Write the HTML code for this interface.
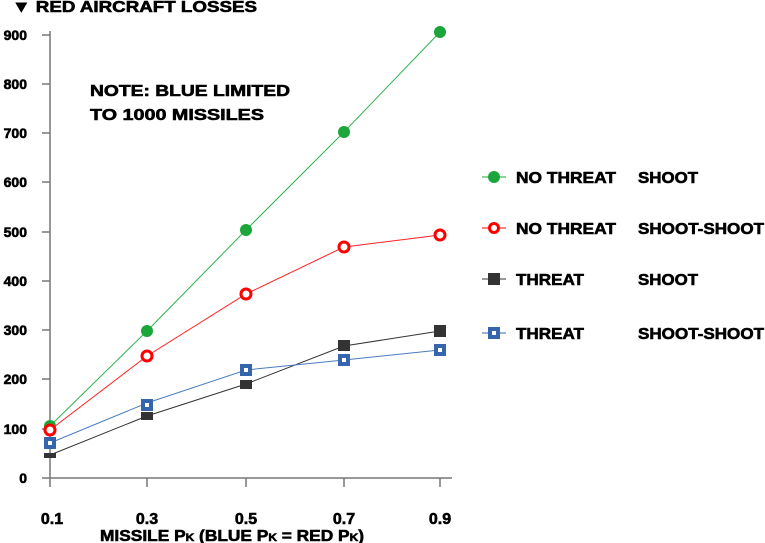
<!DOCTYPE html>
<html><head><meta charset="utf-8"><style>
body{margin:0;background:#fff}
svg{display:block;font-family:"Liberation Sans",Arial,sans-serif;font-weight:bold}
.t{stroke:#000;stroke-width:0.6}
</style></head><body>
<svg width="765" height="543" viewBox="0 0 765 543">
<text class="t" x="12" y="12" font-size="16" textLength="245" lengthAdjust="spacingAndGlyphs">▼ RED AIRCRAFT LOSSES</text>
<g stroke="#777" stroke-width="1.5" fill="none">
<line x1="50" y1="31" x2="50" y2="487"/>
<line x1="42" y1="478" x2="452" y2="478"/>
<line x1="42" y1="35" x2="50" y2="35"/>
<line x1="42" y1="84" x2="50" y2="84"/>
<line x1="42" y1="133" x2="50" y2="133"/>
<line x1="42" y1="182" x2="50" y2="182"/>
<line x1="42" y1="232" x2="50" y2="232"/>
<line x1="42" y1="281" x2="50" y2="281"/>
<line x1="42" y1="330" x2="50" y2="330"/>
<line x1="42" y1="379" x2="50" y2="379"/>
<line x1="42" y1="429" x2="50" y2="429"/>
<line x1="147" y1="478" x2="147" y2="487"/>
<line x1="246" y1="478" x2="246" y2="487"/>
<line x1="344" y1="478" x2="344" y2="487"/>
<line x1="440" y1="478" x2="440" y2="487"/>
</g>
<g font-size="14" text-anchor="end" class="t" stroke-width="0.4">
<text x="27" y="40">900</text><text x="27" y="89">800</text><text x="27" y="138">700</text>
<text x="27" y="187">600</text><text x="27" y="237">500</text><text x="27" y="286">400</text>
<text x="27" y="335">300</text><text x="27" y="384">200</text><text x="27" y="434">100</text>
<text x="27" y="483">0</text>
</g>
<g font-size="16" text-anchor="middle" class="t">
<text x="52" y="524">0.1</text><text x="147" y="524">0.3</text><text x="246" y="524">0.5</text>
<text x="344" y="524">0.7</text><text x="440" y="524">0.9</text>
</g>
<text class="t" x="100" y="541" font-size="16" textLength="264" lengthAdjust="spacingAndGlyphs">MISSILE P<tspan font-size="11">K</tspan> (BLUE P<tspan font-size="11">K</tspan> = RED P<tspan font-size="11">K</tspan>)</text>
<text class="t" x="90" y="96" font-size="16" textLength="200" lengthAdjust="spacingAndGlyphs">NOTE: BLUE LIMITED</text>
<text class="t" x="90" y="120" font-size="16" textLength="174" lengthAdjust="spacingAndGlyphs">TO 1000 MISSILES</text>
<polyline points="50,426 147,331 246,230 344,132 440,32" fill="none" stroke="#2bb24c" stroke-width="1"/>
<polyline points="50,430 147,356 246,294 344,247 440,235" fill="none" stroke="#f22" stroke-width="1"/>
<polyline points="50,455 147,416 246,384 344,346 440,331" fill="none" stroke="#333" stroke-width="1"/>
<polyline points="50,443 147,403 246,370 344,360 440,350" fill="none" stroke="#4a7cc0" stroke-width="1"/>
<g fill="#1aa63a">
<circle cx="50" cy="426" r="6"/><circle cx="147" cy="331" r="6"/><circle cx="246" cy="230" r="6"/><circle cx="344" cy="132" r="6"/><circle cx="440" cy="32" r="6"/>
</g>
<g fill="#fff" stroke="#f00" stroke-width="3">
<circle cx="50" cy="430" r="5"/><circle cx="147" cy="356" r="5"/><circle cx="246" cy="294" r="5"/><circle cx="344" cy="247" r="5"/><circle cx="440" cy="235" r="5"/>
</g>
<g fill="#333">
<rect x="44" y="453" width="12" height="5"/><rect x="141" y="412" width="12" height="8"/><rect x="240" y="380" width="12" height="9"/><rect x="338" y="340" width="12" height="11"/><rect x="434" y="325" width="12" height="12"/>
</g>
<g fill="#fff" stroke="#3566ad" stroke-width="4">
<rect x="46" y="439" width="8" height="8"/><rect x="143" y="401" width="8" height="8"/><rect x="242" y="366" width="8" height="8"/><rect x="340" y="356" width="8" height="8"/><rect x="436" y="346" width="8" height="8"/>
</g>
<g font-size="16">
<line x1="482" y1="177" x2="506" y2="177" stroke="#1aa63a"/><circle cx="494" cy="177" r="6" fill="#1aa63a"/>
<text class="t" x="516" y="183" textLength="100" lengthAdjust="spacingAndGlyphs">NO THREAT</text><text class="t" x="638" y="183" textLength="60" lengthAdjust="spacingAndGlyphs">SHOOT</text>
<line x1="482" y1="228" x2="506" y2="228" stroke="#f00"/><circle cx="494" cy="228" r="4.5" fill="#fff" stroke="#f00" stroke-width="3"/>
<text class="t" x="516" y="234" textLength="100" lengthAdjust="spacingAndGlyphs">NO THREAT</text><text class="t" x="638" y="234" textLength="126" lengthAdjust="spacingAndGlyphs">SHOOT-SHOOT</text>
<line x1="482" y1="279" x2="506" y2="279" stroke="#333"/><rect x="488" y="273" width="12" height="12" fill="#333"/>
<text class="t" x="516" y="285" textLength="68" lengthAdjust="spacingAndGlyphs">THREAT</text><text class="t" x="638" y="285" textLength="60" lengthAdjust="spacingAndGlyphs">SHOOT</text>
<line x1="482" y1="333" x2="506" y2="333" stroke="#3566ad"/><rect x="490" y="329" width="8" height="8" fill="#fff" stroke="#3566ad" stroke-width="4"/>
<text class="t" x="516" y="339" textLength="68" lengthAdjust="spacingAndGlyphs">THREAT</text><text class="t" x="638" y="339" textLength="126" lengthAdjust="spacingAndGlyphs">SHOOT-SHOOT</text>
</g>
</svg>
</body></html>
